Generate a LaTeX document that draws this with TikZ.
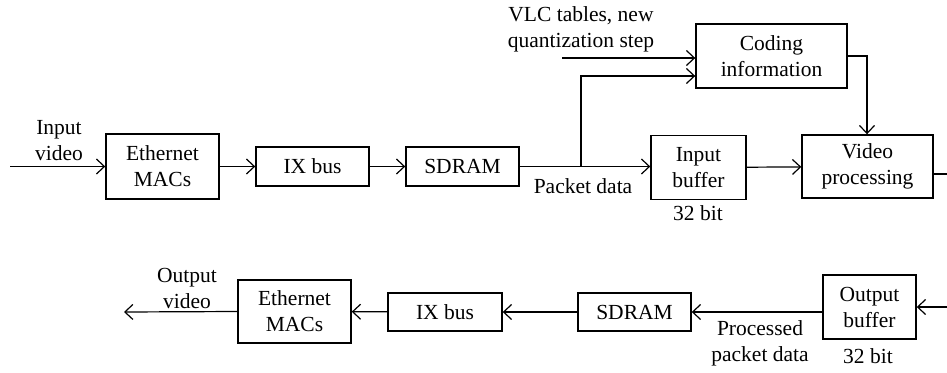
\documentclass[tikz,border=0pt]{standalone}
\usepackage{fontspec}
\setmainfont{Liberation Serif}
\usetikzlibrary{arrows.meta}
\tikzset{
  blk/.style={draw, line width=1.4pt, inner sep=0pt, align=center,
    font=\fontsize{21.5}{26}\selectfont},
  lbl/.style={inner sep=0pt, align=center, font=\fontsize{21.5}{26}\selectfont},
  wire/.style={line width=1.2pt},
  arr/.style={wire, -{Straight Barb[length=8pt,width=15pt,line width=1.2pt]}}
}
\begin{document}
\begin{tikzpicture}[x=1pt,y=-1pt]
\useasboundingbox (0,0) rectangle (947,372);

% upper chain: input path
\node[blk, minimum width=113pt, minimum height=65pt] (em1) at (162.5,166.5) {Ethernet\\MACs};
\node[blk, minimum width=113pt, minimum height=39pt] (ix1) at (312.5,166.5) {IX bus};
\node[blk, minimum width=113pt, minimum height=39pt] (sd1) at (462.5,166.5) {SDRAM};
\node[blk, minimum width=95pt, minimum height=64pt] (ib) at (698.5,167.5) {Input\\buffer};
\node[blk, minimum width=151pt, minimum height=64pt] (ci) at (771.5,56) {Coding\\information};
\node[blk, minimum width=131pt, minimum height=63pt] (vp) at (867.5,166.5) {Video\\processing};

% lower chain: output path
\node[blk, minimum width=93pt, minimum height=64pt] (ob) at (869.5,307) {Output\\buffer};
\node[blk, minimum width=113pt, minimum height=38pt] (sd2) at (634.5,312) {SDRAM};
\node[blk, minimum width=114pt, minimum height=38pt] (ix2) at (445,312) {IX bus};
\node[blk, minimum width=113pt, minimum height=63pt] (em2) at (294.5,311.5) {Ethernet\\MACs};

% labels
\node[lbl] (tin) at (59,141) {Input\\video};
\node[lbl] (tvlc) at (581,29) {VLC tables, new\\quantization step};
\node[lbl] (tpkt) at (583,186) {Packet data};
\node[lbl] (tb1) at (698,213) {32 bit};
\node[lbl] (tout) at (187,288) {Output\\video};
\node[lbl] (tproc) at (760,343) {Processed\\packet data};
\node[lbl] (tb2) at (868,356) {32 bit};

% free ends
\coordinate (in) at (10,166.5);
\coordinate (vlc) at (562,58);
\coordinate (split) at (581,166.5);
\coordinate (vpout) at (947,174);
\coordinate (obin) at (947,307);
\coordinate (out) at (124,312);

% upper connectors
\draw[arr] (in) -- (em1.west);
\draw[arr] (em1) -- (ix1);
\draw[arr] (ix1) -- (sd1);
\draw[arr] (sd1.east) -- (ib.west |- sd1.east);
\draw[arr] (split) |- ([yshift=-20pt]ci.west);
\draw[arr] (vlc) -- (ci.west |- vlc);
\draw[arr] (ci.east) -| ([xshift=-0.5pt]vp.north);
\draw[arr] (ib) -- (vp);
\draw[wire] (vp.east |- vpout) -- (vpout);

% lower connectors
\draw[arr] (obin) -- (ob.east);
\draw[arr] (ob.west |- sd2.east) -- (sd2.east);
\draw[arr] (sd2) -- (ix2);
\draw[arr] (ix2) -- (em2);
\draw[arr] (em2.west) -- (out);
\end{tikzpicture}
\end{document}
